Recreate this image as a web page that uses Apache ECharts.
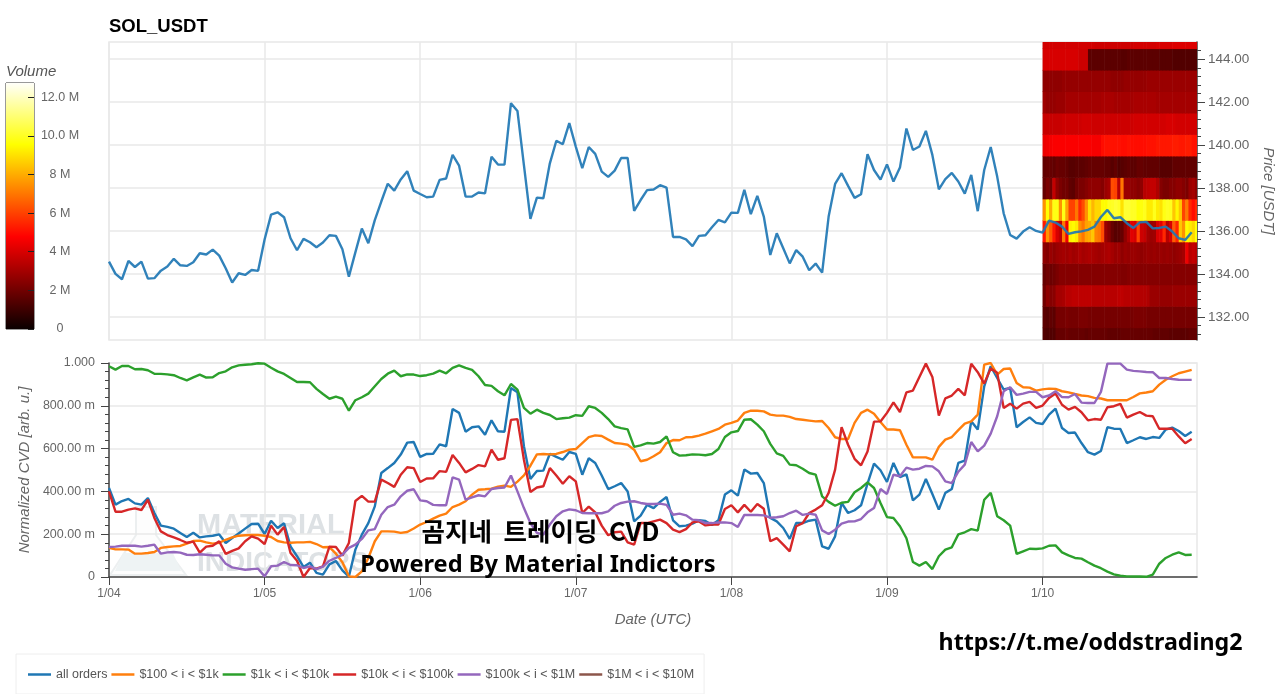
<!DOCTYPE html>
<html><head><meta charset="utf-8">
<style>html,body{margin:0;padding:0;background:#fff}#c{width:1280px;height:694px}</style>
<script src="https://cdn.jsdelivr.net/npm/echarts@6/dist/echarts.min.js"></script>
</head><body><div id="c"></div>
<script>
const dateLabels = ['1/04','1/05','1/06','1/07','1/08','1/09','1/10'];
const dateHours = [0,24,48,72,96,120,144];
const priceTicks = [132,134,136,138,140,142,144];
const priceMinorTicks = [131.2,131.6,132.4,132.8,133.2,133.6,134.4,134.8,135.2,135.6,136.4,136.8,137.2,137.6,138.4,138.8,139.2,139.6,140.4,140.8,141.2,141.6,142.4,142.8,143.2,143.6,144.4];
const volumeTicks = [0,2e6,4e6,6e6,8e6,10e6,12e6];
const volumeLabels = ['0','2 M','4 M','6 M','8 M','10.0 M','12.0 M'];
const cvdNames = ['all orders','$100 < i < $1k','$1k < i < $10k','$10k < i < $100k','$100k < i < $1M','$1M < i < $10M'];

const priceValues = [
134.57,134.0,133.75,134.6,134.32,134.57,133.78,133.8,134.15,134.34,134.7,134.4,134.37,134.54,134.96,134.9,135.13,134.85,134.26,133.6,134.03,133.95,134.18,134.14,
135.6,136.76,136.87,136.64,135.66,135.1,135.63,135.47,135.24,135.46,135.8,135.77,135.15,133.87,135.0,136.11,135.43,136.5,137.37,138.2,137.88,138.4,138.78,137.88,
137.72,137.57,137.6,138.38,138.44,139.54,139.04,137.6,137.6,137.79,137.75,139.46,139.09,139.09,141.95,141.59,139.07,136.56,137.55,137.52,139.15,140.2,140.04,141.02,
139.93,138.92,139.91,139.59,138.76,138.52,138.81,139.4,139.4,136.93,137.44,137.9,137.93,138.13,138.02,135.72,135.72,135.61,135.29,135.77,135.8,136.17,136.51,136.4,
136.85,136.84,137.91,136.78,137.63,136.67,134.88,135.89,135.19,134.49,135.11,134.8,134.17,134.48,134.06,136.67,138.19,138.69,138.1,137.54,137.71,139.57,138.84,138.39,
139.1,138.3,138.95,140.77,139.77,139.93,140.66,139.54,137.94,138.41,138.7,138.3,137.74,138.61,136.92,138.84,139.91,138.53,136.82,135.81,135.64,135.97,136.17,136.0,
135.92,136.48,136.39,136.2,135.86,135.94,135.98,136.05,136.2,136.65,136.98,136.59,136.64,136.36,136.14,136.4,136.42,136.12,136.14,136.2,135.97,135.66,135.58,135.94];

const cvdAll = [
416,338,355,365,344,338,369,299,240,234,226,206,187,207,185,190,193,199,159,182,203,226,248,249,
201,263,229,251,143,97,47,67,19,11,59,75,31,2,128,198,252,330,486,509,533,572,628,631,
561,575,576,620,611,785,767,679,700,704,665,732,681,679,883,863,611,458,495,497,576,561,548,584,
575,478,555,533,474,411,424,439,400,260,287,337,322,351,374,265,237,240,249,265,262,243,265,385,
405,380,502,483,486,439,276,260,229,178,252,252,263,268,143,132,190,346,299,312,335,436,530,499,
444,533,467,480,358,385,458,388,315,393,411,533,544,728,689,891,985,930,876,883,700,724,746,720,
715,759,787,696,673,675,626,583,572,589,700,693,692,626,639,653,645,654,650,689,698,682,659,679];

const cvd100 = [
136,129,129,128,109,109,112,117,136,140,143,145,156,168,170,162,156,160,174,185,193,195,196,196,
193,187,168,162,160,162,162,164,154,139,140,109,69,3,0,26,89,167,213,213,212,206,210,227,
245,257,273,287,296,327,338,354,385,408,410,413,422,427,421,446,475,520,573,575,573,575,584,595,
598,626,654,662,659,642,626,623,618,595,541,548,564,583,626,640,639,653,654,661,670,681,692,712,
720,731,767,777,777,774,759,754,754,748,738,735,731,727,729,696,653,645,645,720,767,782,763,724,
689,689,686,618,559,559,559,548,608,642,654,686,717,727,759,992,1000,946,972,974,907,887,885,871,
877,880,879,868,863,855,848,845,837,834,826,826,826,826,841,858,862,868,899,922,938,952,960,968];

const cvd1k = [
985,969,986,986,971,972,966,950,949,947,943,930,919,933,946,932,933,953,961,980,989,992,994,999,
997,978,961,949,930,911,911,910,879,855,833,843,833,777,826,840,857,891,925,950,964,938,947,946,
939,943,950,964,952,977,989,977,968,938,897,893,868,849,902,876,790,763,782,767,757,738,742,745,
756,753,798,790,767,738,704,696,690,608,615,626,623,631,657,583,567,569,573,572,569,575,598,654,
676,682,735,737,712,681,622,578,566,525,522,506,486,478,377,351,333,347,351,396,416,442,416,346,
280,276,237,181,70,53,70,37,97,128,139,199,209,224,217,361,393,284,265,240,108,120,132,131,
134,146,148,115,101,89,86,69,53,41,25,12,6,3,2,2,1,11,62,89,104,115,103,104];

const cvd10k = [
400,305,305,315,321,313,361,276,213,196,185,173,160,165,114,142,146,167,108,122,134,167,190,179,
154,240,198,234,112,76,0,42,39,50,142,140,100,159,355,379,352,352,455,439,421,478,513,509,
444,460,461,495,491,570,533,489,505,523,517,595,548,555,734,738,548,397,418,424,509,474,436,471,
447,299,329,302,240,195,209,212,162,151,252,252,260,268,252,221,210,224,255,260,241,245,245,318,
335,302,337,305,341,319,167,182,151,120,237,252,299,315,335,393,502,700,618,552,522,587,726,727,
767,816,771,863,871,935,997,935,754,835,848,879,849,996,957,904,974,954,790,810,787,810,818,790,
801,837,857,805,782,795,770,732,738,735,793,798,809,745,759,771,754,751,693,693,693,657,625,645];

const cvd100k = [
140,142,146,146,146,142,146,151,109,115,117,114,104,103,106,104,101,101,62,45,39,34,37,39,
3,50,53,70,56,55,42,50,37,48,76,89,104,136,151,178,218,224,291,327,338,377,403,410,
358,354,337,335,335,466,455,361,372,382,377,411,416,418,474,400,322,252,206,198,245,284,307,316,
312,299,298,298,298,307,333,346,352,354,346,341,341,343,337,291,296,288,268,265,252,252,255,255,
252,234,290,290,290,288,277,279,284,299,310,290,296,291,218,201,221,249,259,260,271,302,322,411,
388,478,471,511,502,506,519,517,494,447,439,492,525,631,587,614,670,751,868,887,851,857,865,865,
840,848,868,841,840,855,815,813,813,865,997,997,997,969,963,961,958,957,930,930,925,922,921,921];

const cvd1M = [];

// Volume profile, in millions, one array per 1-USD price bin, 48 half-hour columns.
const heatBins = [131,132,133,134,135,136,137,138,139,140,141,142,143,144,145];
const heat131 = [1.4,1.3,1.4,1.4,1.8,1.8,1.8,1.9,1.8,1.8,1.8,1.8,1.8,1.7,1.8,1.8,1.8,1.8,1.8,1.8,1.7,1.7,1.7,1.7,1.8,1.8,1.8,1.8,1.8,1.8,1.8,1.8,1.8,1.8,1.7,1.7,1.7,1.7,1.7,1.6,1.6,1.6,1.6,1.6,1.6,1.7,1.7,1.7];
const heat132 = [1.6,1.5,1.7,1.6,2.1,2.1,2.1,2.2,2.1,2.1,2.1,2.2,2.2,2.2,2.1,2.1,2.1,2.1,2.1,2.1,2.1,2.1,2.1,2.1,2.1,2.1,2.1,2.1,2.2,2.2,2.2,2.2,2.1,2.1,2.1,2.1,2.1,2.1,2.1,2.1,2.1,2.1,2.1,2.1,2.1,2.1,2.1,2.2];
const heat133 = [2.0,2.6,2.4,2.5,3.0,3.0,3.1,3.4,3.4,3.5,3.5,3.5,3.5,3.5,3.5,3.4,3.4,3.4,3.4,3.4,3.4,3.4,3.4,3.5,3.5,3.4,3.4,3.3,3.3,3.3,3.3,3.3,3.2,2.8,2.8,2.8,2.7,2.7,2.7,2.7,2.8,2.8,2.8,2.8,2.8,2.8,2.8,2.8];
const heat134 = [1.8,2.0,1.9,2.0,2.2,2.4,2.4,2.4,2.4,2.4,2.4,2.4,2.4,2.4,2.4,2.4,2.4,2.4,2.4,2.4,2.4,2.4,2.4,2.4,2.3,2.3,2.4,2.4,2.4,2.4,2.4,2.4,2.4,2.4,2.4,2.4,2.4,2.4,2.4,2.4,2.4,2.4,2.4,2.4,2.4,2.4,2.4,2.4];
const heat135 = [2.6,2.4,2.8,2.6,2.8,2.9,3.0,2.9,3.1,2.9,3.0,3.2,3.0,3.1,3.2,3.1,3.0,2.9,3.0,3.1,3.2,3.0,2.8,2.9,2.6,2.8,2.7,2.8,2.8,2.7,2.6,2.7,2.8,2.7,2.8,2.7,2.8,2.7,2.8,2.7,2.6,2.7,2.8,3.0,4.4,3.4,3.6,3.4];
const heat136 = [5.2,7.5,6.5,5.2,4.0,3.5,7.0,4.5,9.3,9.5,9.2,7.5,7.0,7.8,8.0,8.5,7.2,7.0,6.2,2.8,2.4,1.8,1.5,1.6,1.8,2.6,3.2,4.2,4.0,6.0,3.8,3.6,3.0,2.8,2.9,4.0,4.2,5.5,3.4,4.0,6.5,5.5,8.5,7.5,9.5,9.2,8.8,9.6];
const heat137 = [7.5,9.6,8.0,9.8,9.8,7.5,9.8,7.8,6.0,6.0,7.0,5.5,6.2,7.5,9.0,8.2,8.8,8.8,9.5,9.5,9.9,10,10.2,10,9.0,10.2,10.2,10,10,9.6,9.7,9.9,9.2,9.2,9.9,9.2,9.0,9.8,10,9.9,8.5,9.4,8.5,6.0,7.0,5.5,5.0,5.5];
const heat138 = [1.8,2.2,2.0,3.6,2.6,2.2,2.0,2.0,1.7,1.6,2.0,2.2,2.2,2.4,2.6,2.6,2.6,2.6,2.4,2.8,3.0,6.2,6.0,3.4,7.0,2.8,2.8,2.6,2.6,2.4,2.6,3.4,3.5,3.6,3.6,3.2,2.4,2.2,2.2,2.4,2.4,2.6,2.6,2.4,2.2,2.8,3.0,2.6];
const heat139 = [1.7,1.8,1.8,1.7,1.9,1.8,1.8,1.7,1.5,1.5,1.6,1.6,1.6,1.7,1.8,1.8,1.8,1.8,1.8,1.7,1.7,1.5,1.7,1.4,1.5,1.6,1.7,1.6,1.6,1.8,1.8,1.7,1.7,1.7,1.7,1.7,1.5,1.5,1.5,1.5,1.7,1.7,1.7,1.7,1.7,1.7,1.7,1.7];
const heat140 = [4.4,4.5,4.6,4.7,4.7,4.7,4.7,4.7,4.7,4.7,4.7,4.7,4.7,4.7,4.7,4.6,4.6,4.6,5.0,5.1,5.1,5.1,5.1,5.1,5.0,5.0,5.1,5.0,5.0,5.0,5.0,5.0,5.1,5.1,5.1,5.2,5.2,5.2,5.2,5.2,5.3,5.3,5.2,5.2,5.3,5.3,5.1,5.1];
const heat141 = [3.7,3.7,3.7,3.7,3.7,3.7,3.8,3.8,3.8,3.8,3.8,3.8,3.9,3.9,3.9,3.8,3.8,3.8,3.8,3.8,3.8,3.8,3.8,3.8,3.8,3.8,3.8,3.8,3.9,3.9,3.9,3.9,3.9,3.9,3.9,3.9,3.9,3.9,4.0,4.0,4.0,3.9,3.9,3.9,3.9,3.9,3.9,3.9];
const heat142 = [2.9,2.7,2.7,2.7,2.8,2.8,2.8,3.0,3.0,3.0,3.0,3.0,3.0,3.0,3.0,3.0,3.0,3.0,3.1,3.1,3.1,3.1,3.0,3.0,3.0,3.0,3.0,3.0,3.1,3.1,3.1,3.1,3.1,3.1,3.1,3.0,3.0,3.0,3.0,3.0,3.0,3.0,3.0,3.0,3.0,3.0,3.0,3.0];
const heat143 = [2.6,2.6,2.6,2.6,2.6,2.6,2.7,2.7,2.7,2.7,2.7,2.7,2.7,2.7,2.7,2.7,2.7,2.7,2.7,2.7,2.7,2.6,2.6,2.6,2.6,2.7,2.7,2.7,2.7,2.7,2.7,2.7,2.8,2.8,2.8,2.8,2.8,2.8,2.8,2.8,2.8,2.8,2.8,2.8,2.8,2.8,2.8,2.8];
const heat144 = [4.0,4.0,4.0,4.0,4.0,4.0,4.0,4.0,4.0,4.0,4.0,3.8,3.8,3.8,1.6,1.6,1.6,1.6,1.6,1.6,1.6,1.6,1.6,1.6,1.5,1.5,1.6,1.6,1.6,1.6,1.6,1.6,1.6,1.6,1.6,1.6,1.5,1.5,1.5,1.5,1.4,1.4,1.4,1.4,1.4,1.4,1.4,1.4];
const heat145 = [3.9,3.9,3.9,3.9,3.9,3.9,3.9,3.9,3.9,3.9,3.9,3.9,3.9,3.9,3.9,3.9,3.8,3.8,3.8,3.8,3.8,3.8,3.8,3.8,3.8,3.8,3.8,3.8,3.9,3.9,3.9,3.9,3.9,3.9,3.9,4.0,4.0,4.0,4.0,4.0,4.1,4.1,4.1,4.1,4.1,4.1,4.1,4.1];
const heatRows = [heat131,heat132,heat133,heat134,heat135,heat136,heat137,heat138,heat139,heat140,heat141,heat142,heat143,heat144,heat145];

const volumeMax = 12.73e6;
const hotStops = [[0,[10,0,0]],[0.375,[255,0,0]],[0.75,[255,255,0]],[1,[255,255,250]]];
function hot(v){
  const t = Math.min(1, Math.max(0, v/volumeMax));
  for (let k=1;k<hotStops.length;k++){
    if (t<=hotStops[k][0]){
      const a=hotStops[k-1], b=hotStops[k], f=(t-a[0])/(b[0]-a[0]);
      return 'rgb('+a[1].map((c,i)=>Math.round(c+(b[1][i]-c)*f)).join(',')+')';
    }
  }
  return 'rgb(255,255,250)';
}
const heatData = [];
heatRows.forEach((row,r)=>row.forEach((vol,c)=>{
  heatData.push([144+c*0.5,144+(c+1)*0.5,heatBins[r]-0.5,heatBins[r]+0.5,vol*1e6]);
}));

const gray='#666', gridC='#e8e8e8', axisC='#444';
const FONT='"Liberation Sans",Arial,sans-serif';
const colors=['#1f77b4','#ff7f0e','#2ca02c','#d62728','#9467bd','#8c564b'];
const cvdSeries=[cvdAll,cvd100,cvd1k,cvd10k,cvd100k,cvd1M];
const xMax=167.82;

const chart=echarts.init(document.getElementById('c'),null,{renderer:'canvas'});
chart.setOption({
  animation:false,
  textStyle:{fontFamily:FONT},
  title:[
    {text:'SOL_USDT',left:104,top:12,textStyle:{fontSize:18.5,fontWeight:'bold',color:'#000',fontFamily:FONT}},
    {text:'Volume',left:1,top:59,textStyle:{fontSize:15,fontWeight:'normal',fontStyle:'italic',color:'#555',fontFamily:FONT}}
  ],
  legend:{
    left:16,top:654,padding:[14,10,13,12],itemWidth:23,itemHeight:2.5,itemGap:4,icon:'rect',
    borderColor:'#eeeeee',borderWidth:1,data:cvdNames,
    textStyle:{fontSize:12.5,color:'#555',fontFamily:FONT}
  },
  grid:[
    {left:109,top:42,width:1088,height:298,outerBoundsMode:'none',show:true,borderColor:gridC,borderWidth:1.5,backgroundColor:'#fff'},
    {left:109,top:363,width:1088,height:214,outerBoundsMode:'none',show:true,borderColor:gridC,borderWidth:1.5,backgroundColor:'transparent'},
    {left:6,top:83,width:28,height:246,outerBoundsMode:'none',show:true,borderColor:'#333',borderWidth:1,backgroundColor:'transparent'},
    {left:109,top:42,width:1088,height:298,outerBoundsMode:'none',show:false}
  ],
  xAxis:[
    {type:'value',gridIndex:0,min:0,max:xMax,axisLine:{show:false},
     axisTick:{show:false,customValues:dateHours},axisLabel:{show:false,customValues:dateHours},
     splitLine:{show:true,lineStyle:{color:gridC,width:1.5}}},
    {type:'value',gridIndex:1,min:0,max:xMax,name:'Date (UTC)',nameLocation:'middle',nameGap:35,
     nameTextStyle:{fontStyle:'italic',color:gray,fontSize:15,fontFamily:FONT},
     axisLine:{show:true,lineStyle:{color:axisC,width:1.5}},
     axisTick:{show:true,length:8,inside:false,lineStyle:{color:axisC},customValues:dateHours},
     axisLabel:{color:gray,fontSize:12,margin:11,customValues:dateHours,
       formatter:v=>dateLabels[dateHours.indexOf(v)]||''},
     splitLine:{show:true,lineStyle:{color:gridC,width:1.5}}},
    {type:'category',gridIndex:2,data:['Volume'],show:false},
    {type:'value',gridIndex:3,min:0,max:xMax,show:false}
  ],
  yAxis:[
    {type:'value',gridIndex:0,position:'right',min:130.92,max:144.8,
     name:'Price [USDT]',nameLocation:'middle',nameGap:63,nameRotate:-90,
     nameTextStyle:{fontStyle:'italic',color:gray,fontSize:15,fontFamily:FONT},
     axisLine:{show:true,onZero:false,lineStyle:{color:axisC,width:1.5}},
     axisTick:{show:true,length:8,lineStyle:{color:axisC},customValues:priceTicks},
     axisLabel:{color:gray,fontSize:13.5,margin:11,customValues:priceTicks,formatter:v=>v.toFixed(2)},
     splitLine:{show:true,lineStyle:{color:gridC,width:1.5}}},
    {type:'value',gridIndex:3,position:'right',min:130.92,max:144.8,
     axisLine:{show:false,onZero:false},
     axisTick:{show:true,length:4,lineStyle:{color:axisC},customValues:priceMinorTicks},
     axisLabel:{show:false,customValues:priceMinorTicks},splitLine:{show:false}},
    {type:'value',gridIndex:1,min:0,max:1000,interval:200,
     name:'Normalized CVD [arb. u.]',nameLocation:'middle',nameGap:70,
     nameTextStyle:{fontStyle:'italic',color:gray,fontSize:15,fontFamily:FONT},
     axisLine:{show:true,onZero:false,lineStyle:{color:axisC,width:1.5}},
     axisTick:{show:true,length:8,lineStyle:{color:axisC}},
     minorTick:{show:true,splitNumber:5,length:4,lineStyle:{color:axisC}},
     axisLabel:{color:gray,fontSize:12.5,margin:14,
       formatter:v=>v===0?'0':(v===1000?'1.000':v.toFixed(2)+' m')},
     splitLine:{show:true,lineStyle:{color:gridC,width:1.5}}},
    {type:'value',gridIndex:2,position:'right',min:0,max:volumeMax,z:10,
     axisLine:{show:false,onZero:false},
     axisTick:{show:true,inside:true,length:6,lineStyle:{color:'#222'},customValues:volumeTicks},
     axisLabel:{color:gray,fontSize:12.5,margin:26,align:'center',customValues:volumeTicks,
       formatter:v=>volumeLabels[volumeTicks.indexOf(v)]||''},
     splitLine:{show:false}}
  ],
  graphic:[
    {type:'polygon',z:0,silent:true,shape:{points:[[136,507],[156,507],[156,535],[186,575],[110,575],[136,535]]},
     style:{fill:'#fdfdfd',stroke:'#eceff0',lineWidth:2}},
    {type:'polygon',z:0,silent:true,shape:{points:[[123,553],[173,553],[181,571],[115,571]]},
     style:{fill:'#eef3f4'}},
    {type:'text',z:0,silent:true,style:{text:'MATERIAL',x:197,y:511,fill:'#dde1e4',font:'bold 29px "Liberation Sans"'}},
    {type:'text',z:0,silent:true,style:{text:'INDICATORS',x:197,y:549,fill:'#dde1e4',font:'bold 28px "Liberation Sans"'}},
    {type:'text',z:100,silent:true,style:{text:'곰지네  트레이딩  CVD',x:540.5,y:531,align:'center',verticalAlign:'middle',fill:'#000',font:'bold 25.5px "Noto Sans CJK KR"'}},
    {type:'text',z:100,silent:true,style:{text:'Powered By Material Indictors',x:538,y:565,align:'center',verticalAlign:'middle',fill:'#000',font:'bold 23.6px "Noto Sans"'}},
    {type:'text',z:100,silent:true,style:{text:'https://t.me/oddstrading2',x:1090.5,y:643,align:'center',verticalAlign:'middle',fill:'#000',font:'bold 23.2px "Noto Sans"'}}
  ],
  series:[
    {type:'custom',name:'Volume profile',xAxisIndex:0,yAxisIndex:0,z:1,clip:true,silent:true,
     data:heatData,encode:{x:[0,1],y:[2,3]},
     renderItem:(params,api)=>{
       const a=api.coord([api.value(0),api.value(3)]), b=api.coord([api.value(1),api.value(2)]);
       const rect=echarts.graphic.clipRectByRect(
         {x:a[0],y:a[1],width:b[0]-a[0]+0.6,height:b[1]-a[1]+0.6},
         {x:params.coordSys.x,y:params.coordSys.y,width:params.coordSys.width,height:params.coordSys.height});
       return rect&&{type:'rect',shape:rect,style:{fill:hot(api.value(4))}};
     }},
    {type:'line',name:'SOL_USDT price',xAxisIndex:0,yAxisIndex:0,z:3,showSymbol:false,
     lineStyle:{color:'#1f77b4',width:2.4,opacity:0.92},silent:true,
     data:priceValues.map((v,i)=>[i,v])},
    ...cvdNames.map((name,k)=>({
      type:'line',name,xAxisIndex:1,yAxisIndex:2,z:3+k,showSymbol:false,symbol:'none',clip:true,
      lineStyle:{color:colors[k],width:2.4},itemStyle:{color:colors[k]},silent:true,
      data:cvdSeries[k].map((v,i)=>[i,v])
    })),
    {type:'bar',name:'Volume scale',xAxisIndex:2,yAxisIndex:3,barWidth:'100%',silent:true,
     data:[volumeMax],
     itemStyle:{color:{type:'linear',x:0,y:1,x2:0,y2:0,
       colorStops:hotStops.map(s=>({offset:s[0],color:'rgb('+s[1].join(',')+')'}))}}}
  ]
});
</script></body></html>
